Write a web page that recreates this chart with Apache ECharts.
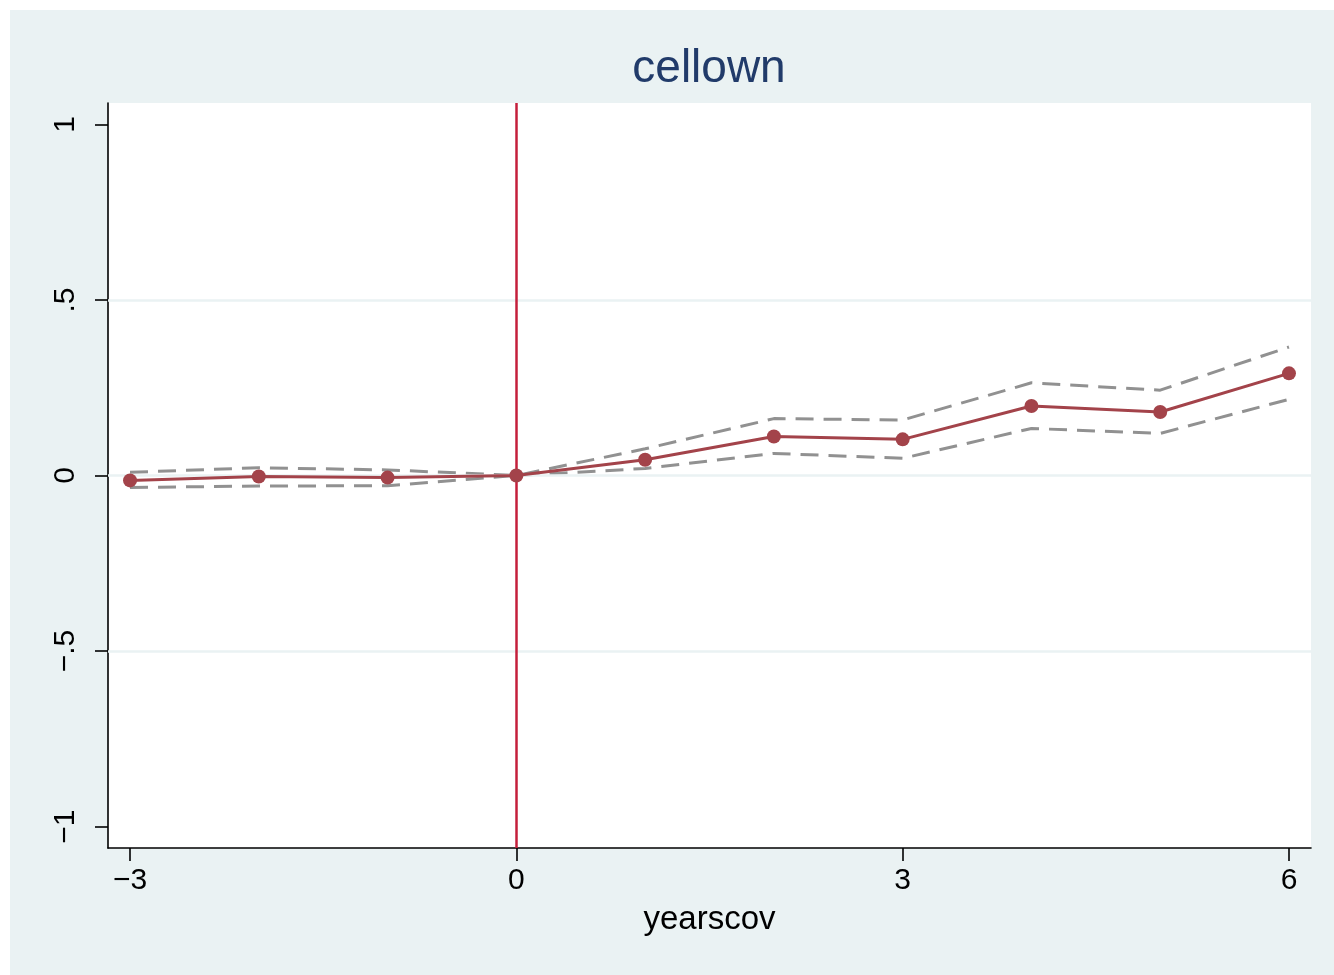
<!DOCTYPE html>
<html>
<head>
<meta charset="utf-8">
<script src="https://cdn.jsdelivr.net/npm/echarts@6/dist/echarts.min.js"></script>
<style>
  html, body { margin: 0; padding: 0; background: #ffffff; }
  #chart { position: absolute; left: 10px; top: 10px; width: 1324px; height: 965px; }
</style>
</head>
<body>
<div id="chart"></div>
<script>
// ---- data ----
const years = [-3, -2, -1, 0, 1, 2, 3, 4, 5, 6];
const estimate = [-0.014, -0.003, -0.006, 0, 0.045, 0.111, 0.103, 0.198, 0.181, 0.291];
const ciUpper = [0.009, 0.022, 0.016, 0, 0.076, 0.162, 0.158, 0.264, 0.243, 0.366];
const ciLower = [-0.034, -0.030, -0.029, 0, 0.020, 0.063, 0.049, 0.134, 0.120, 0.217];
const xTicks = [-3, 0, 3, 6];
const yTicks = [-1, -0.5, 0, 0.5, 1];
const yGrid = [-0.5, 0, 0.5];
const eventYear = 0;
const titleText = 'cellown';
const xTitle = 'yearscov';

function pair(xs, ys) { return xs.map((x, i) => [x, ys[i]]); }
function fmtNum(v) {
  if (v === 0) return '0';
  let s = String(Math.abs(v));
  if (s.startsWith('0.')) s = s.slice(1);
  return (v < 0 ? '\u2212' : '') + s;
}

const font = '"Liberation Sans", Arial, Helvetica, sans-serif';
const chart = echarts.init(document.getElementById('chart'), null, { renderer: 'canvas' });

chart.setOption({
  backgroundColor: '#eaf2f3',
  animation: false,
  title: {
    text: titleText,
    left: 694,
    top: 31,
    textAlign: 'center',
    textStyle: { color: '#213b6a', fontSize: 46, fontWeight: 'normal', fontFamily: font }
  },
  grid: {
    left: 98, top: 93, width: 1203, height: 745,
    show: true, backgroundColor: '#ffffff', borderWidth: 0
  },
  xAxis: {
    type: 'value',
    min: -3.171, max: 6.171,
    name: xTitle,
    nameLocation: 'middle',
    nameGap: 55,
    nameTextStyle: { color: '#000', fontSize: 33, fontFamily: font },
    axisLine: { show: true, onZero: false, lineStyle: { color: '#000', width: 1.6 } },
    axisTick: { show: true, length: 13, customValues: xTicks, lineStyle: { color: '#000', width: 1.6 } },
    axisLabel: { customValues: xTicks, margin: 18, color: '#000', fontSize: 30, fontFamily: font, formatter: fmtNum },
    splitLine: { show: false }
  },
  yAxis: {
    type: 'value',
    min: -1.061, max: 1.061,
    axisLine: { show: true, onZero: false, lineStyle: { color: '#000', width: 1.6 } },
    axisTick: { show: true, length: 13, customValues: yTicks, lineStyle: { color: '#000', width: 1.6 } },
    axisLabel: { customValues: yTicks, rotate: 90, margin: 27, color: '#000', fontSize: 30, fontFamily: font, formatter: fmtNum },
    splitLine: { show: false }
  },
  series: [
    {
      type: 'line',
      name: 'grid',
      data: [],
      silent: true,
      z: 1,
      markLine: {
        silent: true,
        symbol: 'none',
        label: { show: false },
        lineStyle: { color: '#eaf2f3', width: 2.5, type: 'solid' },
        data: yGrid.map(v => ({ yAxis: v }))
      }
    },
    {
      type: 'line',
      name: 'upper',
      data: pair(years, ciUpper),
      showSymbol: false,
      symbol: 'none',
      z: 3,
      lineStyle: { color: '#919191', width: 3, type: [18, 10] }
    },
    {
      type: 'line',
      name: 'lower',
      data: pair(years, ciLower),
      showSymbol: false,
      symbol: 'none',
      z: 3,
      lineStyle: { color: '#919191', width: 3, type: [18, 10] }
    },
    {
      type: 'line',
      name: 'event',
      data: [],
      z: 4,
      markLine: {
        silent: true,
        symbol: 'none',
        label: { show: false },
        lineStyle: { color: '#c41f3b', width: 2.5, type: 'solid' },
        data: [{ xAxis: eventYear }]
      }
    },
    {
      type: 'line',
      name: 'estimate',
      data: pair(years, estimate),
      symbol: 'circle',
      symbolSize: 14,
      z: 5,
      lineStyle: { color: '#a3434a', width: 3 },
      itemStyle: { color: '#a3434a' }
    }
  ]
});
</script>
</body>
</html>
